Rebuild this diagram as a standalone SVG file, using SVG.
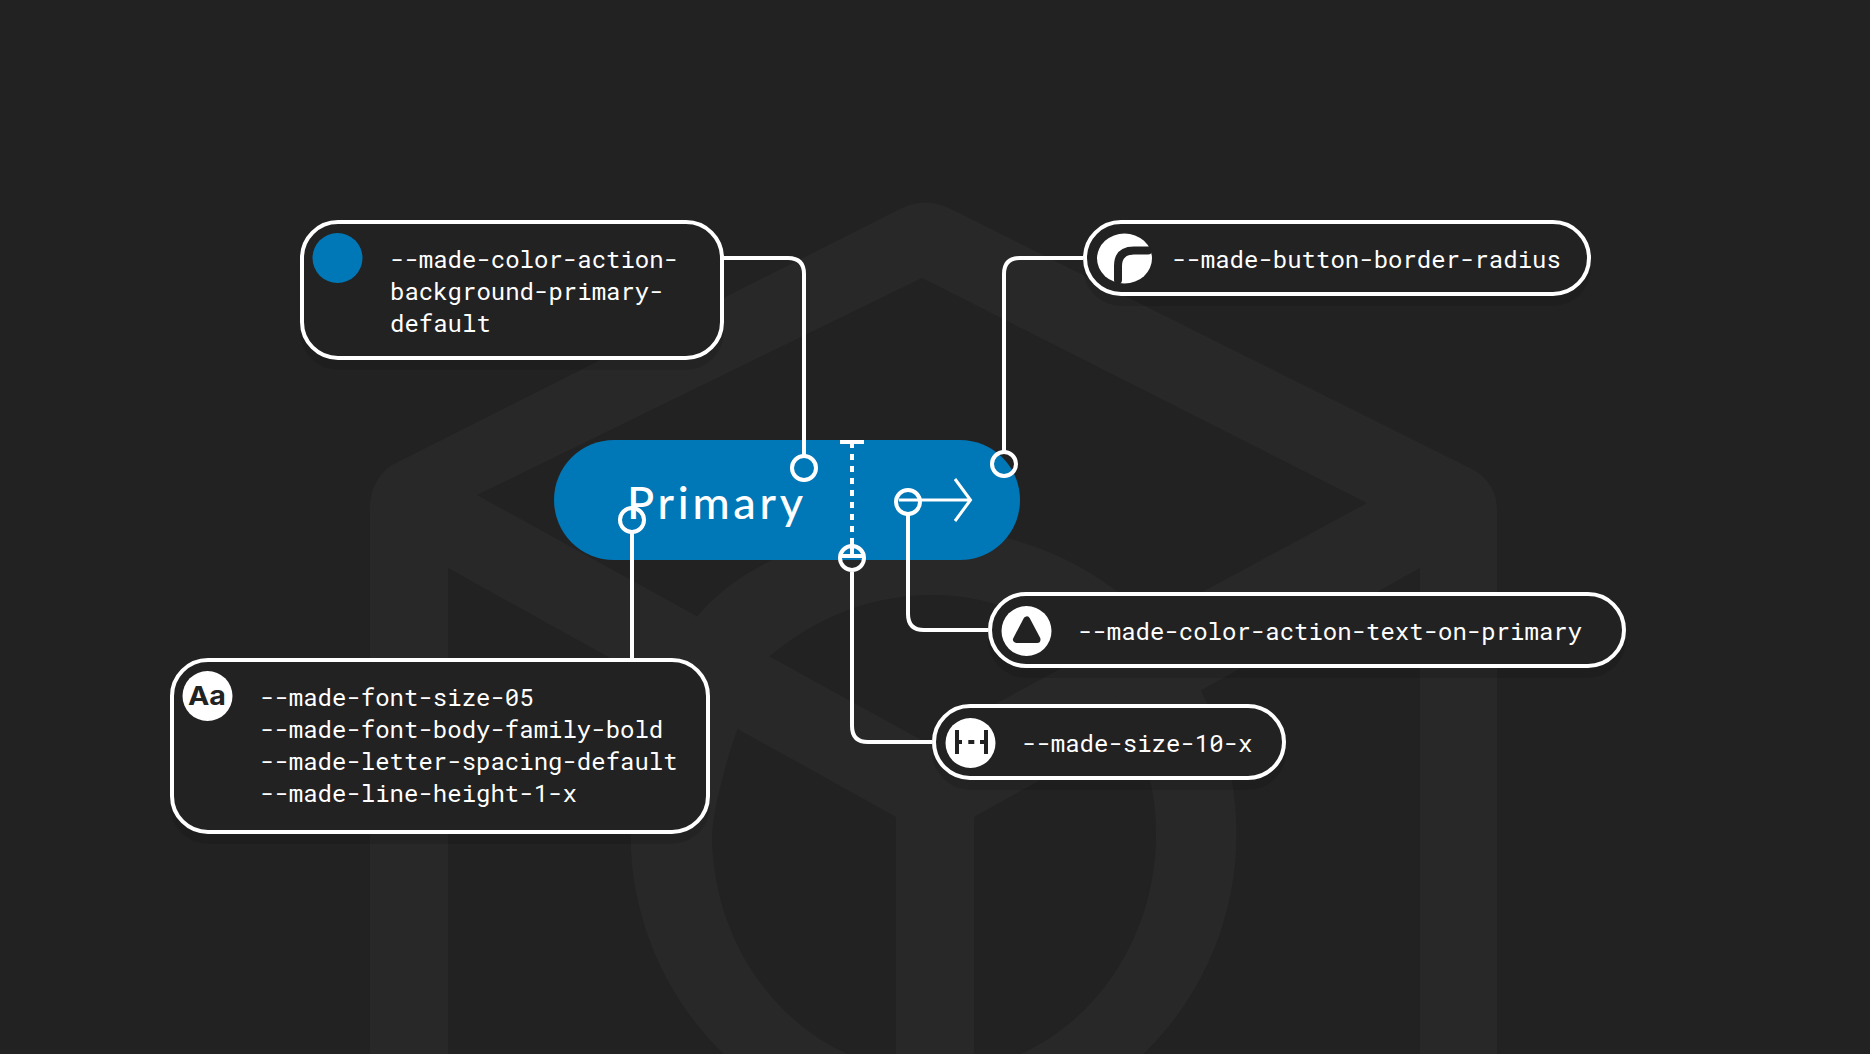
<svg xmlns="http://www.w3.org/2000/svg" width="1870" height="1054" viewBox="0 0 1870 1054">
<style>
.mark{fill:#282828}
.hole{fill:#222222}
.shadow{fill:#000;opacity:.1}
.box{fill:#222222;stroke:#fff;stroke-width:4}
.mono{font-family:"Roboto Mono","DejaVu Sans Mono",monospace;font-size:24px;fill:#fff}
.conn{fill:none;stroke:#fff;stroke-width:4}
.ring{fill:none;stroke:#fff;stroke-width:4}
.icon{fill:#fff}
.ink{fill:none;stroke:#222222}
</style>
<rect width="1870" height="1054" fill="#222222"/>
<g id="watermark">
<path class="mark" d="M370 1054V508Q370 480 392 465L900 209Q925 196 951 209L1474 470Q1497 484 1497 510V1054Z"/>
<path class="hole" d="M922 278L1367 503L925 742L477 495Z"/>
<path class="hole" d="M448 568L896 817V1054H448Z"/>
<path class="hole" d="M1420 568L974 817V1054H1420Z"/>
<path class="mark" fill-rule="evenodd" d="M630.500 834C630.500 635 730 529 933.500 529A303 305 0 0 1 1236.500 834A303 305 0 0 1 630.500 834ZM712 834A222 239 0 0 0 1156 834A222 239 0 0 0 934 595C860 595 805 625 763 662C752 690 718 770 712 834Z"/>
</g>
<g id="node-background">
<rect class="shadow" x="300" y="230" width="424" height="140" rx="38"/>
<rect class="box" x="302" y="222" width="420" height="136" rx="36"/>
<circle cx="337.500" cy="258" r="25" fill="#0077B6"/>
<text class="mono" x="390" y="268">--made-color-action-</text>
<text class="mono" x="390" y="300">background-primary-</text>
<text class="mono" x="390" y="332">default</text>
</g>
<g id="node-radius">
<rect class="shadow" x="1083" y="230" width="508" height="76" rx="38"/>
<rect class="box" x="1085" y="222" width="504" height="72" rx="36"/>
<ellipse class="icon" cx="1124.500" cy="258.500" rx="27.500" ry="25"/>
<path class="ink" stroke-width="8" stroke-linecap="round" d="M1118 280V266Q1118 250.500 1134 250.500H1148"/>
<text class="mono" x="1172" y="268">--made-button-border-radius</text>
</g>
<g id="node-text-color">
<rect class="shadow" x="988" y="602" width="638" height="76" rx="38"/>
<rect class="box" x="990" y="594" width="634" height="72" rx="36"/>
<circle class="icon" cx="1026.500" cy="631" r="25"/>
<path d="M1026.700 620L1016.500 639.500H1037Z" fill="#222222" stroke="#222222" stroke-width="7" stroke-linejoin="round"/>
<text class="mono" x="1078" y="640">--made-color-action-text-on-primary</text>
</g>
<g id="node-size">
<rect class="shadow" x="932" y="714" width="354" height="76" rx="38"/>
<rect class="box" x="934" y="706" width="350" height="72" rx="36"/>
<circle class="icon" cx="970.500" cy="743" r="25"/>
<path fill="#222222" d="M955 730h4v10h3v4h-3v10h-4zM984 730h4v24h-4v-10h-4v-4h4zM968.300 740h6v4h-6z"/>
<text class="mono" x="1022" y="752">--made-size-10-x</text>
</g>
<g id="node-font">
<rect class="shadow" x="170" y="668" width="540" height="176" rx="38"/>
<rect class="box" x="172" y="660" width="536" height="172" rx="36"/>
<circle class="icon" cx="207.500" cy="696" r="25"/>
<text x="207" y="705" text-anchor="middle" font-family="Inter,'Liberation Sans',sans-serif" font-size="26" font-weight="700" fill="#222222" textLength="38" lengthAdjust="spacingAndGlyphs">Aa</text>
<text class="mono" x="260" y="706">--made-font-size-05</text>
<text class="mono" x="260" y="738">--made-font-body-family-bold</text>
<text class="mono" x="260" y="770">--made-letter-spacing-default</text>
<text class="mono" x="260" y="802">--made-line-height-1-x</text>
</g>
<g id="node-button">
<rect x="554" y="440" width="466" height="120" rx="60" fill="#0077B6"/>
<text x="627" y="519" font-family="Lato,'Noto Sans',sans-serif" font-size="45" font-weight="500" fill="#fff" textLength="176" lengthAdjust="spacing">Primary</text>
<path d="M899 500H970M955 479L970.500 500L955 521" fill="none" stroke="#fff" stroke-width="3"/>
<path d="M840 442H864M852 444V448M840 556H864" fill="none" stroke="#fff" stroke-width="4"/>
<path d="M852 454V556" fill="none" stroke="#fff" stroke-width="4" stroke-dasharray="6 6 6 6 6 6 6 6 6 6 6 6 6 6 18"/>
</g>
<g id="connectors">
<path class="conn" d="M724 258H788Q804 258 804 274V456"/>
<path class="conn" d="M1083 258H1020Q1004 258 1004 274V452"/>
<path class="conn" d="M632 532V658"/>
<path class="conn" d="M852 572V726Q852 742 868 742H932"/>
<path class="conn" d="M908 514V614Q908 630 924 630H988"/>
<circle class="ring" cx="804" cy="468" r="12"/>
<circle class="ring" cx="1004" cy="464" r="12"/>
<circle class="ring" cx="632" cy="520" r="12"/>
<circle class="ring" cx="852" cy="558" r="12"/>
<circle class="ring" cx="908" cy="502" r="12"/>
</g>
</svg>
